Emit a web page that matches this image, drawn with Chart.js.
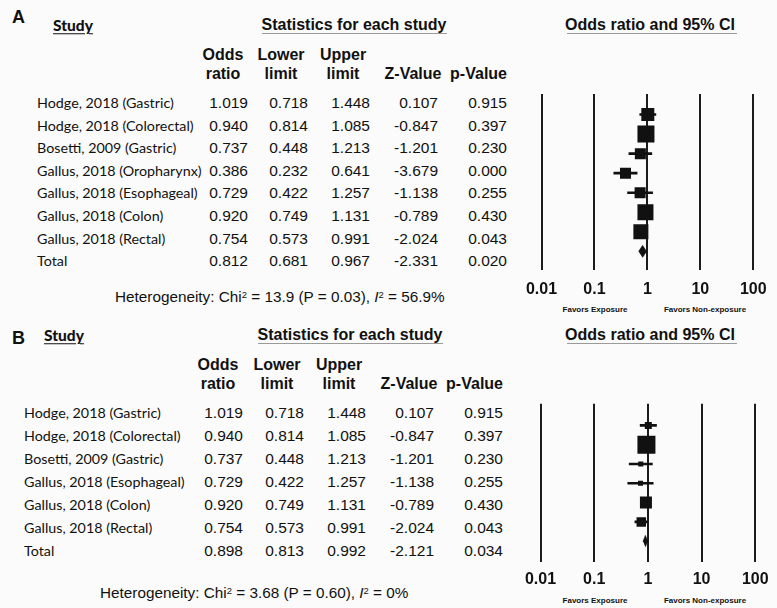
<!DOCTYPE html>
<html>
<head>
<meta charset="utf-8">
<script src="https://cdn.jsdelivr.net/npm/chart.js@4.4.1/dist/chart.umd.min.js"></script>
<style>
html, body { margin: 0; padding: 0; background: #fbfbfb; }
#page { position: relative; width: 777px; height: 608px; overflow: hidden;
        font-family: 'Liberation Sans', Arial, sans-serif; color: #111; }
.t { position: absolute; white-space: nowrap; line-height: 1; transform: translateY(-50%); }
.t.c { transform: translate(-50%, -50%); }
.name { font-family: Lato, 'Open Sans', sans-serif; font-size: 14.3px; }
.num { font-size: 15.5px; }
.hd { font-size: 16px; font-weight: bold; }
.letter { font-size: 18px; font-weight: bold; }
.study { font-family: Lato, 'Open Sans', sans-serif; font-size: 15.5px; font-weight: 900;
         text-decoration: underline; text-decoration-thickness: 1px; text-underline-offset: 2px; }
.het { font-size: 15.3px; }
.fav { font-size: 8px; font-weight: bold; }
sup { font-size: 0.62em; vertical-align: 0; position: relative; top: -0.45em; line-height: 0; }
.rule { position: absolute; height: 0; border-top: 1px solid #9a9a9a; }
canvas { position: absolute; }
</style>
</head>
<body>
<div id="page"></div>
<script>
// ---- data ----
const tickValues = [0.01, 0.1, 1, 10, 100];
const tickLabels = ['0.01', '0.1', '1', '10', '100'];

const studiesA = ['Hodge, 2018 (Gastric)', 'Hodge, 2018 (Colorectal)', 'Bosetti, 2009 (Gastric)',
  'Gallus, 2018 (Oropharynx)', 'Gallus, 2018 (Esophageal)', 'Gallus, 2018 (Colon)',
  'Gallus, 2018 (Rectal)', 'Total'];
const oddsA  = [1.019, 0.940, 0.737, 0.386, 0.729, 0.920, 0.754, 0.812];
const lowerA = [0.718, 0.814, 0.448, 0.232, 0.422, 0.749, 0.573, 0.681];
const upperA = [1.448, 1.085, 1.213, 0.641, 1.257, 1.131, 0.991, 0.967];
const zA     = [0.107, -0.847, -1.201, -3.679, -1.138, -0.789, -2.024, -2.331];
const pA     = [0.915, 0.397, 0.230, 0.000, 0.255, 0.430, 0.043, 0.020];
const hetA   = 'Heterogeneity: Chi<sup>2</sup> = 13.9 (P = 0.03), <i>I</i><sup>2</sup> = 56.9%';

const studiesB = ['Hodge, 2018 (Gastric)', 'Hodge, 2018 (Colorectal)', 'Bosetti, 2009 (Gastric)',
  'Gallus, 2018 (Esophageal)', 'Gallus, 2018 (Colon)', 'Gallus, 2018 (Rectal)', 'Total'];
const oddsB  = [1.019, 0.940, 0.737, 0.729, 0.920, 0.754, 0.898];
const lowerB = [0.718, 0.814, 0.448, 0.422, 0.749, 0.573, 0.813];
const upperB = [1.448, 1.085, 1.213, 1.257, 1.131, 0.991, 0.992];
const zB     = [0.107, -0.847, -1.201, -1.138, -0.789, -2.024, -2.121];
const pB     = [0.915, 0.397, 0.230, 0.255, 0.430, 0.043, 0.034];
const hetB   = 'Heterogeneity: Chi<sup>2</sup> = 3.68 (P = 0.60), <i>I</i><sup>2</sup> = 0%';

// square side in px (study weight as drawn)
const boxA = [13, 17, 11, 11, 11, 16, 15];
const boxB = [7, 18, 5, 5, 12, 9.5];

const INK = '#111';
const page = document.getElementById('page');

function txt(html, x, y, cls, align) {
  const d = document.createElement('div');
  d.className = 't ' + cls + (align === 'center' ? ' c' : '');
  d.innerHTML = html;
  d.style.top = y + 'px';
  if (align === 'right') d.style.right = (777 - x) + 'px';
  else d.style.left = x + 'px';
  page.appendChild(d);
}

function rule(x1, x2, y) {
  const d = document.createElement('div');
  d.className = 'rule';
  d.style.left = x1 + 'px';
  d.style.width = (x2 - x1) + 'px';
  d.style.top = y + 'px';
  page.appendChild(d);
}

function panel(p) {
  const rowY = i => p.row0 + p.dy * i;

  txt(p.letter, 12, p.letterY, 'letter');
  txt('Study', p.studyX, p.titleY + 1, 'study');
  txt('Statistics for each study', p.statsX, p.titleY, 'hd', 'center');
  rule(p.statsRule[0], p.statsRule[1], p.ruleY);
  txt('Odds ratio and 95% CI', 650, p.titleY, 'hd', 'center');
  rule(567, 737, p.ruleY);

  const h = p.head;
  txt('Odds', h[0], p.h1, 'hd', 'center');  txt('ratio', h[0], p.h2, 'hd', 'center');
  txt('Lower', h[1], p.h1, 'hd', 'center'); txt('limit', h[1], p.h2, 'hd', 'center');
  txt('Upper', h[2], p.h1, 'hd', 'center'); txt('limit', h[2], p.h2, 'hd', 'center');
  txt('Z-Value', h[3], p.h2, 'hd', 'center');
  txt('p-Value', p.cols[4], p.h2, 'hd', 'right');

  p.studies.forEach((s, i) => {
    const y = rowY(i);
    txt(s, p.nameX, y, 'name');
    [p.odds, p.lower, p.upper, p.z, p.p].forEach((col, c) => {
      txt(col[i].toFixed(3), p.cols[c], y, 'num', 'right');
    });
  });

  txt(p.het, p.hetX, p.hetY, 'het');
  txt('Favors Exposure', 595, p.favY, 'fav', 'center');
  txt('Favors Non-exposure', 705, p.favY, 'fav', 'center');

  // forest plot
  const padTop = 10;
  const tickPad = p.tickY - p.bottom - 9.6;
  const axisH = 40;
  const ch = Math.ceil(padTop + (p.bottom - p.top) + axisH + 4);
  const canvas = document.createElement('canvas');
  canvas.width = 277;
  canvas.height = ch;
  canvas.style.left = '500px';
  canvas.style.top = (p.top - padTop) + 'px';
  page.appendChild(canvas);

  const t = p.odds.length - 1;                 // total row
  const rows = p.odds.slice(0, t).map((_, i) => i);
  const hh = p.diamondH / 2 / p.dy;

  new Chart(canvas, {
    type: 'scatter',
    data: {
      datasets: [
        {
          type: 'bar', indexAxis: 'y',
          data: rows.map(i => ({ x: [p.lower[i], p.upper[i]], y: i })),
          backgroundColor: INK, borderWidth: 0, barThickness: 2
        },
        {
          data: rows.map(i => ({ x: p.odds[i], y: i })),
          pointStyle: 'rect',
          pointRadius: p.box.map(s => s / Math.SQRT2),
          backgroundColor: INK, borderWidth: 0
        },
        {
          type: 'line',
          data: [
            { x: p.lower[t], y: t }, { x: p.odds[t], y: t - hh },
            { x: p.upper[t], y: t }, { x: p.odds[t], y: t + hh }
          ],
          fill: 'shape', backgroundColor: INK, borderColor: INK,
          borderWidth: 0.5, pointRadius: 0, tension: 0
        }
      ]
    },
    options: {
      responsive: false,
      animation: false,
      events: [],
      layout: {
        padding: {
          left: p.left - 500, right: 777 - p.right, top: padTop,
          bottom: ch - padTop - (p.bottom - p.top) - axisH
        }
      },
      plugins: { legend: { display: false }, tooltip: { enabled: false } },
      scales: {
        x: {
          type: 'logarithmic', min: 0.01, max: 100,
          afterBuildTicks: s => { s.ticks = tickValues.map(v => ({ value: v })); },
          afterFit: s => { s.height = axisH; },
          ticks: {
            autoSkip: false, maxRotation: 0, padding: tickPad, color: INK,
            font: { family: "'Liberation Sans', Arial", size: 16, weight: 'bold' },
            callback: (v, i) => tickLabels[i]
          },
          grid: { color: '#1c1c1c', lineWidth: 2, drawTicks: false },
          border: { display: false }
        },
        y: {
          type: 'linear', display: false, reverse: true,
          min: (p.top - p.row0) / p.dy, max: (p.bottom - p.row0) / p.dy
        }
      }
    }
  });
}

panel({
  letter: 'A', letterY: 17, studyX: 53, titleY: 25, ruleY: 33, statsX: 354, statsRule: [262, 447],
  head: [223, 281, 343, 413], h1: 54.5, h2: 73.5,
  cols: [248, 308, 370, 438, 507], nameX: 37, row0: 103, dy: 22.6,
  studies: studiesA, odds: oddsA, lower: lowerA, upper: upperA, z: zA, p: pA, box: boxA,
  het: hetA, hetX: 115, hetY: 297,
  left: 541.5, right: 761.5, top: 92, bottom: 270, tickY: 290, favY: 310, diamondH: 14
});

panel({
  letter: 'B', letterY: 338, studyX: 44, titleY: 335, ruleY: 343, statsX: 350, statsRule: [258, 443],
  head: [218, 277, 339, 409], h1: 365, h2: 383.5,
  cols: [243, 304, 366, 434, 503], nameX: 24, row0: 413.3, dy: 22.9,
  studies: studiesB, odds: oddsB, lower: lowerB, upper: upperB, z: zB, p: pB, box: boxB,
  het: hetB, hetX: 100, hetY: 593,
  left: 540.5, right: 760.5, top: 401, bottom: 562, tickY: 580, favY: 601, diamondH: 14
});
</script>
</body>
</html>
